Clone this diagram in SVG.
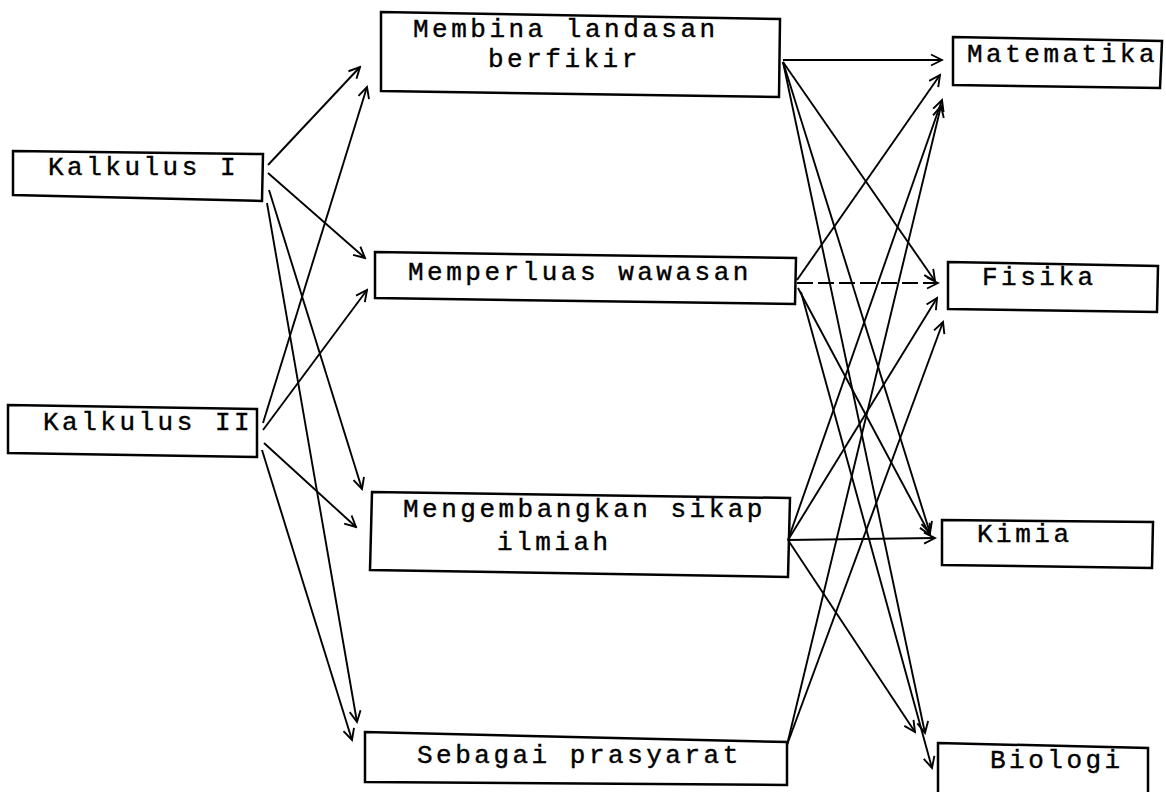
<svg xmlns="http://www.w3.org/2000/svg" width="1166" height="792" viewBox="0 0 1166 792">
<style>
.box{fill:none;stroke:#000;stroke-width:2.5;stroke-linejoin:miter}
.t{font-family:"Liberation Mono","DejaVu Sans Mono",monospace;font-size:26px;letter-spacing:3.5px;fill:#000;stroke:#000;stroke-width:0.4}
.c{fill:none;stroke:#000;stroke-width:1.9;marker-end:url(#ah)}
.d{stroke-dasharray:16 5}
</style>
<defs>
<marker id="ah" markerUnits="userSpaceOnUse" markerWidth="14" markerHeight="14" refX="12" refY="6" orient="auto" viewBox="0 0 14 12">
<path d="M1,0.5 L12,6 L1,11.5" fill="none" stroke="#000" stroke-width="1.9"/>
</marker>
</defs>
<rect width="1166" height="792" fill="#fff"/>
<g id="connectors">
<line class="c" x1="268" y1="165" x2="360" y2="67"/>
<line class="c" x1="268" y1="173" x2="365" y2="258"/>
<line class="c" x1="269" y1="190" x2="362" y2="489"/>
<line class="c" x1="267" y1="203" x2="357" y2="722"/>
<line class="c" x1="263" y1="423" x2="367" y2="87"/>
<line class="c" x1="263" y1="430" x2="367" y2="290"/>
<line class="c" x1="264" y1="443" x2="356" y2="527"/>
<line class="c" x1="262" y1="450" x2="352" y2="740"/>
<line class="c" x1="783" y1="60" x2="942" y2="60"/>
<line class="c" x1="783" y1="62" x2="935" y2="281"/>
<line class="c" x1="783" y1="62" x2="930" y2="533"/>
<line class="c" x1="783" y1="62" x2="925" y2="733"/>
<line class="c" x1="797" y1="280" x2="940" y2="75"/>
<line class="c d" x1="797" y1="283" x2="938" y2="283"/>
<line class="c" x1="798" y1="288" x2="930" y2="535"/>
<line class="c" x1="801" y1="292" x2="932" y2="768"/>
<line class="c" x1="788" y1="540" x2="942" y2="100"/>
<line class="c" x1="788" y1="540" x2="937" y2="298"/>
<line class="c" x1="788" y1="540" x2="935" y2="538"/>
<line class="c" x1="788" y1="540" x2="915" y2="732"/>
<line class="c" x1="787" y1="745" x2="941" y2="106"/>
<line class="c" x1="787" y1="745" x2="943" y2="322"/>
</g>
<g id="kalkulus1">
<polygon class="box" points="13,151 263,154 262,201 13,195"/>
<text class="t" x="48" y="175">Kalkulus I</text>
</g>
<g id="kalkulus2">
<polygon class="box" points="8,405 257,409 257,457 8,453"/>
<text class="t" x="43" y="430">Kalkulus II</text>
</g>
<g id="membina">
<polygon class="box" points="381,12 780,19 779,97 381,91"/>
<text class="t" x="413" y="37">Membina landasan</text>
<text class="t" x="488" y="67">berfikir</text>
</g>
<g id="memperluas">
<polygon class="box" points="375,252 796,258 795,304 375,298"/>
<text class="t" x="408" y="280">Memperluas wawasan</text>
</g>
<g id="mengembangkan">
<polygon class="box" points="372,492 790,498 788,577 370,570"/>
<text class="t" x="403" y="517">Mengembangkan sikap</text>
<text class="t" x="497" y="550">ilmiah</text>
</g>
<g id="sebagai">
<polygon class="box" points="365,732 787,742 787,785 365,782"/>
<text class="t" x="417" y="763">Sebagai prasyarat</text>
</g>
<g id="matematika">
<polygon class="box" points="953,37 1162,41 1160,88 953,85"/>
<text class="t" x="967" y="62">Matematika</text>
</g>
<g id="fisika">
<polygon class="box" points="948,262 1158,266 1157,312 948,309"/>
<text class="t" x="982" y="285">Fisika</text>
</g>
<g id="kimia">
<polygon class="box" points="942,520 1153,522 1152,568 942,565"/>
<text class="t" x="977" y="542">Kimia</text>
</g>
<g id="biologi">
<polygon class="box" points="938,743 1148,748 1148,798 938,798"/>
<text class="t" x="990" y="768">Biologi</text>
</g>
</svg>
